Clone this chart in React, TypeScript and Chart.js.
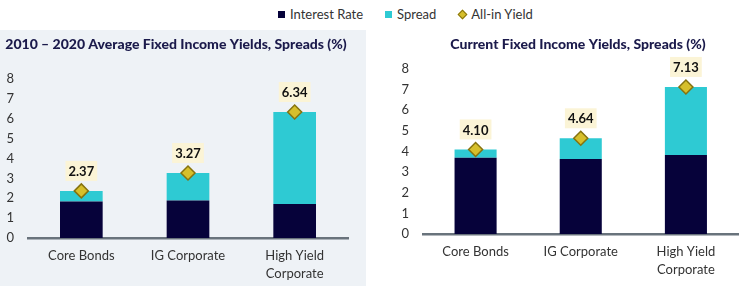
import React, { useEffect, useRef } from 'react';
import { Chart, registerables } from 'chart.js';

Chart.register(...registerables);

const categories: (string | string[])[] = ['Core Bonds', 'IG Corporate', ['High Yield', 'Corporate']];

const histInterest = [1.84, 1.89, 1.71];
const histSpread = [0.53, 1.38, 4.63];
const histAllIn = [2.37, 3.27, 6.34];

const curInterest = [3.7, 3.64, 3.83];
const curSpread = [0.4, 1.0, 3.3];
const curAllIn = [4.1, 4.64, 7.13];

const seriesNames = ['Interest Rate', 'Spread', 'All-in Yield'];
const histTitle = '2010 – 2020 Average Fixed Income Yields, Spreads (%)';
const curTitle = 'Current Fixed Income Yields, Spreads (%)';

const NAVY = '#06023a';
const CYAN = '#2ecad3';
const GOLD = '#d6bf2b';
const GOLD_BORDER = '#86730f';
const LABEL_BG = '#fbf4d6';
const PANEL_BG = '#eef2f6';
const FONT = 'Lato, "Noto Sans", sans-serif';

const yieldLabels = {
  id: 'yieldLabels',
  afterDatasetsDraw(chart: any) {
    const idx = chart.data.datasets.findIndex((d: any) => d.type === 'line');
    if (idx < 0) return;
    const meta = chart.getDatasetMeta(idx);
    const ctx = chart.ctx;
    ctx.save();
    ctx.font = `bold 13px ${FONT}`;
    meta.data.forEach((pt: any, i: number) => {
      const txt = Number(chart.data.datasets[idx].data[i]).toFixed(2);
      const w = ctx.measureText(txt).width + 6;
      const h = 20;
      const cx = pt.x;
      const cy = pt.y - 20;
      ctx.fillStyle = LABEL_BG;
      ctx.fillRect(cx - w / 2, cy - h / 2, w, h);
      ctx.fillStyle = '#111111';
      ctx.textAlign = 'center';
      ctx.textBaseline = 'middle';
      ctx.fillText(txt, cx, cy + 1);
    });
    ctx.restore();
  },
};

const panelTitle = {
  id: 'panelTitle',
  afterDraw(chart: any, _args: any, opts: any) {
    const ctx = chart.ctx;
    ctx.save();
    ctx.font = `900 14px ${FONT}`;
    ctx.fillStyle = '#1b1a4b';
    ctx.textAlign = 'center';
    ctx.textBaseline = 'middle';
    ctx.fillText(opts.text, opts.x, opts.y);
    ctx.restore();
  },
};

function makeConfig(
  interest: number[],
  spread: number[],
  allIn: number[],
  title: string,
  titleX: number,
  padTop: number,
  padRight: number,
  yWidth: number,
  xHeight: number
): any {
  return {
    type: 'bar',
    data: {
      labels: categories,
      datasets: [
        {
          type: 'line',
          label: seriesNames[2],
          data: allIn,
          showLine: false,
          pointStyle: 'rectRot',
          pointRadius: 7,
          pointBackgroundColor: GOLD,
          pointBorderColor: GOLD_BORDER,
          pointBorderWidth: 1.5,
          stack: 'yield',
          order: 0,
        },
        {
          type: 'bar',
          label: seriesNames[0],
          data: interest,
          backgroundColor: NAVY,
          stack: 'bars',
          order: 1,
          barPercentage: 0.4,
          categoryPercentage: 1,
        },
        {
          type: 'bar',
          label: seriesNames[1],
          data: spread,
          backgroundColor: CYAN,
          stack: 'bars',
          order: 1,
          barPercentage: 0.4,
          categoryPercentage: 1,
        },
      ],
    },
    options: {
      responsive: false,
      animation: false,
      devicePixelRatio: 1,
      layout: { padding: { top: padTop, right: padRight, left: 0, bottom: 0 } },
      plugins: {
        legend: { display: false },
        tooltip: { enabled: false },
        title: { display: false },
        panelTitle: { text: title, x: titleX, y: 14 },
      },
      scales: {
        x: {
          stacked: true,
          grid: { display: false, drawTicks: false },
          border: { display: true, color: '#69737c', width: 2.5 },
          ticks: {
            color: '#333333',
            font: { family: FONT, size: 13, lineHeight: 1.35 },
            padding: 9,
            maxRotation: 0,
            autoSkip: false,
          },
          afterFit: (s: any) => {
            s.height = xHeight;
          },
        },
        y: {
          stacked: true,
          min: 0,
          max: 8,
          grid: { display: false, drawTicks: false },
          border: { display: false },
          ticks: {
            stepSize: 1,
            color: '#333333',
            font: { family: FONT, size: 13 },
            padding: 14,
          },
          afterFit: (s: any) => {
            s.width = yWidth;
          },
        },
      },
    },
    plugins: [yieldLabels, panelTitle],
  };
}

function ChartCanvas({ config, width, height }: { config: any; width: number; height: number }) {
  const ref = useRef<HTMLCanvasElement | null>(null);
  useEffect(() => {
    if (!ref.current) return;
    const chart = new Chart(ref.current, config);
    return () => chart.destroy();
  }, [config]);
  return <canvas ref={ref} width={width} height={height} style={{ display: 'block', width, height }} />;
}

const histConfig = makeConfig(histInterest, histSpread, histAllIn, histTitle, 176, 49, 18, 28, 48);
const curConfig = makeConfig(curInterest, curSpread, curAllIn, curTitle, 212, 39, 4, 57, 52);

export default function App() {
  const legendText: React.CSSProperties = { fontFamily: FONT, fontSize: 13, color: '#333333', lineHeight: '16px' };
  return (
    <div style={{ position: 'absolute', left: 0, top: 0, width: 747, height: 286, background: '#ffffff', overflow: 'hidden' }}>
      <div
        style={{
          position: 'absolute',
          left: 278,
          top: 6,
          display: 'flex',
          alignItems: 'center',
          gap: 22,
        }}
      >
        <div style={{ display: 'flex', alignItems: 'center', gap: 5 }}>
          <span style={{ width: 7, height: 7, background: NAVY, display: 'inline-block' }} />
          <span style={legendText}>{seriesNames[0]}</span>
        </div>
        <div style={{ display: 'flex', alignItems: 'center', gap: 5 }}>
          <span style={{ width: 7, height: 7, background: CYAN, display: 'inline-block' }} />
          <span style={legendText}>{seriesNames[1]}</span>
        </div>
        <div style={{ display: 'flex', alignItems: 'center', gap: 5 }}>
          <span
            style={{
              width: 5,
              height: 5,
              background: GOLD,
              border: `1px solid ${GOLD_BORDER}`,
              transform: 'rotate(45deg)',
              display: 'inline-block',
              marginLeft: 1,
            }}
          />
          <span style={legendText}>{seriesNames[2]}</span>
        </div>
      </div>
      <div style={{ position: 'absolute', left: 0, top: 30, width: 366, height: 256, background: PANEL_BG }}>
        <ChartCanvas config={histConfig} width={366} height={256} />
      </div>
      <div style={{ position: 'absolute', left: 366, top: 30, width: 381, height: 256, background: '#ffffff' }}>
        <ChartCanvas config={curConfig} width={381} height={256} />
      </div>
    </div>
  );
}
